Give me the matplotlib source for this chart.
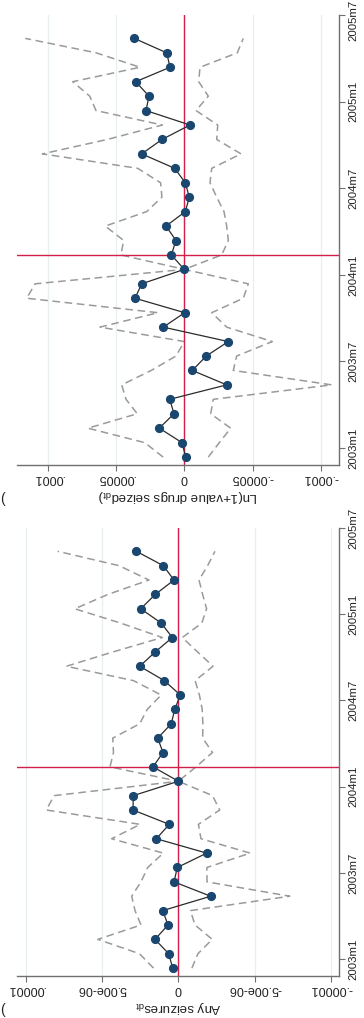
import numpy as np
import matplotlib.pyplot as plt
from matplotlib.transforms import ScaledTranslation

plt.rcParams['font.family'] = ['Liberation Sans', 'DejaVu Sans']
plt.rcParams['mathtext.fontset'] = 'custom'
plt.rcParams['mathtext.rm'] = 'Liberation Sans'
plt.rcParams['mathtext.it'] = 'Liberation Sans:italic'

navy = '#1a476f'
red = '#d3204a'
grey = '#9a9a9a'
gridc = '#e8eff1'
axc = '#707070'

# months since 2003m1 (graph is drawn turned on its side)
months = np.arange(30)
date_labels = ['2003m1', '2003m7', '2004m1', '2004m7', '2005m1', '2005m7']
date_ticks = np.arange(0, 31, 6) + 0.62
event_month = 14

# upper panel: Ln(1+value drugs seized), units 1e-5
value_coef = [-0.103, 0.169, 1.833, 0.755, 1.070, -3.108, -0.586, -1.613, -3.226, 1.540,
              -0.029, 3.614, 3.123, 0.0, 0.953, 0.608, 1.342, -0.073, -0.367, -0.073,
              0.704, 3.123, 1.635, -0.418, 2.808, 2.588, 3.563, 1.048, 1.290, 3.666]
value_hi = [1.554, 2.903, 7.067, 3.446, 4.274, 4.589, 2.419, 0.608, 0.0, 6.180,
            1.928, 11.554, 10.938, 0.0, 4.648, 4.443, 5.791, 2.764, 1.642, 1.737,
            3.416, 10.403, 5.645, 1.613, 6.473, 6.935, 8.181, 3.248, 6.466, 11.656]
value_lo = [-1.759, -2.566, -3.402, -1.935, -2.126, -10.806, -3.592, -3.841, -6.451, -3.108,
            -2.009, -4.325, -4.692, 0.0, -2.742, -3.226, -3.108, -2.910, -2.375, -1.884,
            -2.009, -4.157, -2.375, -2.449, -0.858, -1.759, -1.056, -1.151, -3.885, -4.325]
value_ticks = [0.0001, 0.00005, 0, -0.00005, -0.0001]
value_ticklabels = ['.0001', '.00005', '0', '-.00005', '-.0001']

# lower panel: any seizures, units 1e-6
any_coef = [0.374, 0.636, 1.533, 0.682, 1.029, -2.117, 0.288, 0.072, -1.855, 1.448,
            0.596, 2.975, 2.955, 0.0, 1.664, 1.009, 1.356, 0.465, 0.242, -0.125,
            0.924, 2.536, 1.514, 0.400, 1.121, 2.470, 1.514, 0.288, 0.990, 2.759]
any_hi = [1.632, 2.549, 5.282, 2.451, 2.844, 3.060, 2.451, 2.012, 0.990, 4.377,
          2.503, 8.657, 8.145, 0.0, 4.482, 4.253, 4.305, 2.536, 2.045, 1.127,
          2.942, 7.339, 4.279, 1.055, 3.775, 6.789, 4.613, 1.927, 3.893, 7.916]
any_lo = [-0.885, -1.278, -2.215, -1.088, -0.786, -7.293, -1.874, -1.868, -4.699, -1.481,
          -1.311, -2.706, -2.235, 0.0, -1.153, -2.235, -1.592, -1.605, -1.560, -1.376,
          -1.094, -2.267, -1.252, -0.256, -1.533, -1.848, -1.586, -1.350, -1.913, -2.398]
any_ticks = [0.00001, 0.000005, 0, -0.000005, -0.00001]
any_ticklabels = ['.00001', '5.00e-06', '0', '-5.00e-06', '-.00001']


def panel(ax, coef, lo, hi, unit, xlim, ticks, ticklabels, title, top_shift=0):
    coef = np.array(coef) * unit
    lo = np.array(lo) * unit
    hi = np.array(hi) * unit

    for t in ticks:
        ax.axvline(t, color=gridc, lw=0.9, zorder=0)
    ax.plot(hi, months, color=grey, lw=1.1, ls=(0, (5, 3)), zorder=1)
    ax.plot(lo, months, color=grey, lw=1.1, ls=(0, (5, 3)), zorder=1)
    ax.axvline(0, color=red, lw=1.0, zorder=2)
    ax.axhline(event_month, color=red, lw=1.0, zorder=2)
    ax.plot(coef, months, color='#2b2b2b', lw=0.9, zorder=3)
    ax.plot(coef, months, 'o', color=navy, ms=5.6, mec=navy, zorder=4)

    ax.set_xlim(xlim)
    ax.set_ylim(-0.55, 30.62)
    ax.set_xticks(ticks)
    ax.set_xticklabels(ticklabels, rotation=180, ha='center', va='top', fontsize=9, color='#222222')
    ax.set_yticks(date_ticks)
    ax.yaxis.tick_right()
    ax.set_yticklabels(date_labels, rotation=90, ha='left', va='center', fontsize=8.2, color='#222222')
    ax.tick_params(axis='x', direction='out', length=4, width=0.8, color=axc, pad=1)
    ax.tick_params(axis='y', direction='out', length=4.5, width=0.8, color=axc, pad=2)
    ax.set_xlabel(title, rotation=180, fontsize=9.6, color='#222222', labelpad=3)

    if top_shift:
        lab = ax.get_yticklabels()[-1]
        lab.set_transform(lab.get_transform() + ScaledTranslation(0, -top_shift / 72, ax.figure.dpi_scale_trans))

    for s in ['left', 'top']:
        ax.spines[s].set_visible(False)
    for s in ['right', 'bottom']:
        ax.spines[s].set_color(axc)
        ax.spines[s].set_linewidth(1.0)


fig = plt.figure(figsize=(3.64, 10.18), dpi=100)
W, H = 364, 1018

ax1 = fig.add_axes([17 / W, 1 - 465 / H, 322 / W, 450 / H])
panel(ax1, value_coef, value_lo, value_hi, 1e-5, (12.265e-5, -11.341e-5),
      value_ticks, value_ticklabels, r'Ln(1+value drugs seized$_{\mathrm{dt}}$)', top_shift=4)

ax2 = fig.add_axes([17 / W, 1 - 976 / H, 322 / W, 448 / H])
panel(ax2, any_coef, any_lo, any_hi, 1e-6, (10.577e-6, -10.524e-6),
      any_ticks, any_ticklabels, r'Any seizures$_{\mathrm{dt}}$')

# cut-off panel letters at the left edge
fig.text(0.0, 1 - 499 / H, '(', fontsize=10, ha='left', va='center', color='#222222')
fig.text(0.0, 1 - 1010 / H, '(', fontsize=10, ha='left', va='center', color='#222222')

fig.savefig('out.png', dpi=100, facecolor='white')
